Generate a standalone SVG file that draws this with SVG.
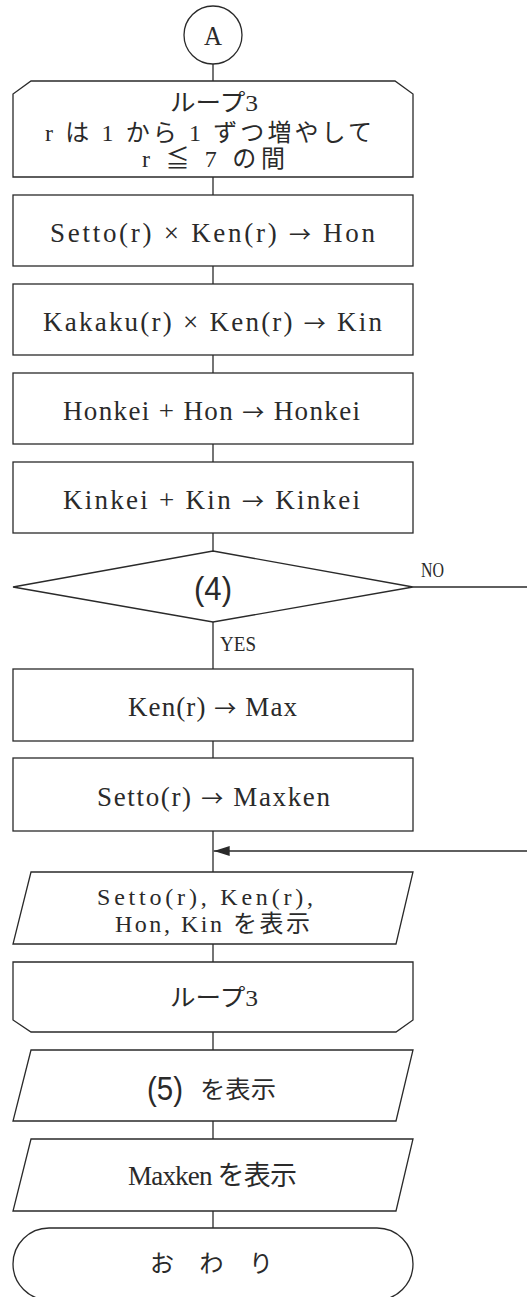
<svg xmlns="http://www.w3.org/2000/svg" width="527" height="1297" viewBox="0 0 527 1297">
  <style>
    .shape { fill: #ffffff; stroke: #2a2a2a; stroke-width: 1.3; }
    .line { fill: none; stroke: #2a2a2a; stroke-width: 1.3; }
    .t { font-family: "Liberation Serif", "Noto Sans CJK JP", serif; fill: #2a2a2a; text-anchor: middle; }
    .m { font-size: 27px; }
    .s { font-size: 24px; }
    .ar { font-family: "Noto Sans CJK JP", sans-serif; font-size: 22px; }
    .lab { font-family: "Liberation Serif", serif; font-size: 22px; fill: #2a2a2a; }
    .num { font-family: "Liberation Sans", "DejaVu Sans", sans-serif; font-size: 34px; fill: #2a2a2a; text-anchor: middle; }
  </style>
  <defs>
    <marker id="arrow" viewBox="0 0 16 10" refX="16" refY="5" markerWidth="16" markerHeight="10" markerUnits="userSpaceOnUse" orient="auto">
      <path d="M0,0 L16,5 L0,10 Z" fill="#2a2a2a"/>
    </marker>
  </defs>

  <!-- connectors -->
  <g id="connectors">
    <path class="line" d="M213,64 V81"/>
    <path class="line" d="M213,177 V195"/>
    <path class="line" d="M213,266 V284"/>
    <path class="line" d="M213,355 V373"/>
    <path class="line" d="M213,444 V462"/>
    <path class="line" d="M213,533 V551"/>
    <path class="line" d="M213,622 V669"/>
    <path class="line" d="M213,741 V758"/>
    <path class="line" d="M213,831 V872"/>
    <path class="line" d="M213,944 V962"/>
    <path class="line" d="M213,1032 V1050"/>
    <path class="line" d="M213,1121 V1139"/>
    <path class="line" d="M213,1211 V1228"/>
    <!-- NO branch leaves to the right and returns above the output -->
    <path class="line" d="M413,587 H527"/>
    <path class="line" d="M527,851 H213.7" marker-end="url(#arrow)"/>
    <text class="lab" x="421" y="577" textLength="23" lengthAdjust="spacingAndGlyphs">NO</text>
    <text class="lab" x="220" y="651" textLength="36" lengthAdjust="spacingAndGlyphs">YES</text>
  </g>

  <!-- connector A -->
  <g id="connector-a">
    <circle class="shape" cx="213" cy="35" r="29"/>
    <text class="t" x="213" y="45" font-size="27" textLength="18" lengthAdjust="spacingAndGlyphs">A</text>
  </g>

  <!-- loop 3 start -->
  <g id="loop3-start">
    <path class="shape" d="M31,81 H395 L413,94 V177 H13 V94 Z"/>
    <text class="t s" x="214" y="111" textLength="88" lengthAdjust="spacingAndGlyphs">ループ3</text>
    <text class="t s" x="208.5" y="141" textLength="327" lengthAdjust="spacing">r は 1 から 1 ずつ増やして</text>
    <text class="t s" x="213.5" y="167" textLength="143" lengthAdjust="spacing">r ≦ 7 の間</text>
  </g>

  <g id="calc-hon">
    <rect class="shape" x="13" y="195" width="400" height="71"/>
    <text class="t m" x="212.5" y="242" textLength="325" lengthAdjust="spacing">Setto(r) × Ken(r) <tspan class="ar">→</tspan> Hon</text>
  </g>

  <g id="calc-kin">
    <rect class="shape" x="13" y="284" width="400" height="71"/>
    <text class="t m" x="212.5" y="331" textLength="339" lengthAdjust="spacing">Kakaku(r) × Ken(r) <tspan class="ar">→</tspan> Kin</text>
  </g>

  <g id="sum-hon">
    <rect class="shape" x="13" y="373" width="400" height="71"/>
    <text class="t m" x="211.5" y="420" textLength="297" lengthAdjust="spacing">Honkei + Hon <tspan class="ar">→</tspan> Honkei</text>
  </g>

  <g id="sum-kin">
    <rect class="shape" x="13" y="462" width="400" height="71"/>
    <text class="t m" x="211.5" y="509" textLength="297" lengthAdjust="spacing">Kinkei + Kin <tspan class="ar">→</tspan> Kinkei</text>
  </g>

  <!-- decision (4) -->
  <g id="decision-4">
    <path class="shape" d="M213,551 L413,587 L213,622 L13,587 Z"/>
    <text class="num" x="213" y="600" textLength="38" lengthAdjust="spacingAndGlyphs">(4)</text>
  </g>

  <g id="set-max">
    <rect class="shape" x="13" y="669" width="400" height="72"/>
    <text class="t m" x="212.5" y="716" textLength="169" lengthAdjust="spacing">Ken(r) <tspan class="ar">→</tspan> Max</text>
  </g>

  <g id="set-maxken">
    <rect class="shape" x="13" y="758" width="400" height="73"/>
    <text class="t m" x="213.5" y="806" textLength="233" lengthAdjust="spacing">Setto(r) <tspan class="ar">→</tspan> Maxken</text>
  </g>

  <!-- output of each row -->
  <g id="output-row">
    <path class="shape" d="M31,872 H413 L396,944 H13 Z"/>
    <text class="t s" x="205" y="905" textLength="216" lengthAdjust="spacing">Setto(r), Ken(r),</text>
    <text class="t s" x="212.5" y="932" textLength="195" lengthAdjust="spacing">Hon, Kin を表示</text>
  </g>

  <!-- loop 3 end -->
  <g id="loop3-end">
    <path class="shape" d="M13,962 H413 V1020 L396,1032 H31 L13,1020 Z"/>
    <text class="t s" x="214" y="1006" textLength="88" lengthAdjust="spacingAndGlyphs">ループ3</text>
  </g>

  <g id="output-5">
    <path class="shape" d="M31,1050 H413 L396,1121 H13 Z"/>
    <text class="num" x="165" y="1100" textLength="36" lengthAdjust="spacingAndGlyphs">(5)</text>
    <text class="t s" x="238" y="1098" textLength="76" lengthAdjust="spacingAndGlyphs">を表示</text>
  </g>

  <g id="output-maxken">
    <path class="shape" d="M31,1139 H413 L396,1211 H13 Z"/>
    <text class="t m" x="212.5" y="1185" textLength="169" lengthAdjust="spacing">Maxken を表示</text>
  </g>

  <!-- terminal -->
  <g id="terminal-end">
    <path class="shape" d="M49,1228 H377 A36,36 0 0 1 377,1300 H49 A36,36 0 0 1 49,1228 Z"/>
    <text class="t s" x="211.5" y="1272" textLength="123" lengthAdjust="spacing">お わ り</text>
  </g>
</svg>
